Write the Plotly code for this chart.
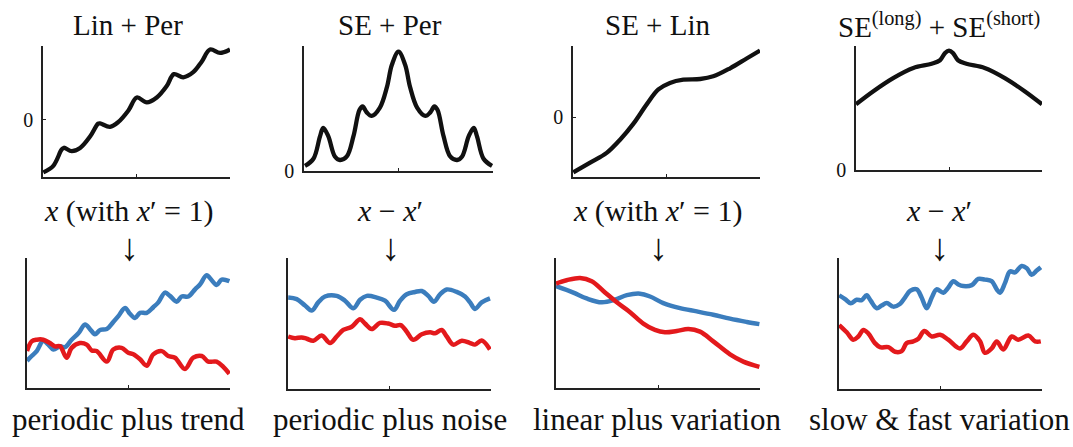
import plotly.graph_objects as go

# ---------------- data ----------------
# Top row: kernel shapes (black)
lin_per_x = [-1.99, -1.67, -1.40, -1.33, -1.08, -0.81, -0.49, -0.23, -0.17, 0.15, 0.42, 0.74, 1.01,
             1.33, 1.65, 1.97, 2.20, 2.50, 2.82, 3.09, 3.36, 3.68, 4.00]
lin_per_y = [-2.15, -1.88, -1.21, -1.14, -1.28, -1.15, -0.68, -0.15, -0.14, -0.28, -0.08, 0.39, 0.92,
             0.72, 0.92, 1.39, 1.88, 1.75, 1.96, 2.39, 2.89, 2.75, 2.89]

se_per_x = [-2.97, -2.70, -2.49, -2.39, -2.23, -2.02, -1.86, -1.64, -1.43, -1.24, -1.14, -1.01, -0.85,
            -0.59, -0.37, -0.21, 0.00, 0.21, 0.37, 0.59, 0.85, 1.01, 1.14, 1.24, 1.43, 1.64, 1.86,
            2.02, 2.23, 2.39, 2.49, 2.70, 2.97]
se_per_y = [0.04, 0.10, 0.29, 0.36, 0.29, 0.12, 0.09, 0.12, 0.29, 0.51, 0.54, 0.49, 0.46,
            0.53, 0.70, 0.89, 1.00, 0.89, 0.70, 0.53, 0.46, 0.49, 0.54, 0.51, 0.29, 0.12, 0.09,
            0.12, 0.29, 0.36, 0.29, 0.10, 0.04]

se_lin_x = [-1.99, -1.45, -0.92, -0.49, -0.06, 0.37, 0.74, 1.11, 1.54, 2.08, 2.50, 3.04, 3.57, 4.00]
se_lin_y = [-2.27, -1.87, -1.47, -0.93, -0.27, 0.53, 1.13, 1.40, 1.53, 1.56, 1.67, 2.00, 2.40, 2.73]

se_se_x = [-3.00, -2.44, -1.80, -1.15, -0.56, -0.29, -0.13, 0.00, 0.13, 0.29, 0.56, 1.15, 1.80, 2.44, 3.00]
se_se_y = [0.55, 0.66, 0.77, 0.855, 0.89, 0.92, 0.98, 1.00, 0.98, 0.92, 0.89, 0.855, 0.77, 0.66, 0.55]

# Bottom row: samples (blue, red)
b1_blue_x = [0.00, 0.23, 0.48, 0.80, 1.05, 1.30, 1.63, 1.87, 2.20, 2.53, 2.86, 3.10, 3.35, 3.60, 3.93,
             4.25, 4.50, 4.83, 5.07, 5.32, 5.57, 5.90, 6.22, 6.47, 6.80, 7.04, 7.37, 7.62, 7.95, 8.28,
             8.52, 8.85, 9.10, 9.34, 9.59, 9.97]
b1_blue_y = [-2.89, -2.52, -2.14, -1.34, -1.64, -2.02, -1.77, -1.84, -1.26, -0.77, -0.09, -0.44, -0.84,
             -0.51, -0.44, 0.11, 0.56, 1.19, 0.74, 0.41, 0.81, 0.81, 1.24, 1.62, 2.37, 2.12, 1.67, 2.07,
             2.07, 2.62, 2.99, 3.70, 3.32, 2.95, 3.37, 3.25]
b1_red_x = [0.00, 0.23, 0.48, 0.80, 1.13, 1.38, 1.63, 1.95, 2.20, 2.61, 2.94, 3.19, 3.43, 3.93, 4.25,
            4.66, 4.99, 5.24, 5.57, 5.90, 6.22, 6.64, 6.96, 7.29, 7.78, 8.19, 8.61, 8.93, 9.34, 9.67, 9.97]
b1_red_y = [-2.14, -1.39, -1.26, -1.26, -1.52, -1.77, -1.77, -2.65, -1.89, -1.52, -1.64, -2.09, -2.14,
            -2.95, -2.02, -1.89, -2.27, -2.39, -2.77, -3.27, -2.39, -2.14, -2.52, -2.65, -3.52, -2.65,
            -2.52, -2.95, -2.95, -3.35, -3.89]

b2_blue_x = [0.01, 0.43, 0.84, 1.17, 1.49, 1.82, 2.40, 2.81, 3.22, 3.55, 3.88, 4.37, 4.78, 5.22, 5.52,
             5.85, 6.26, 6.59, 6.91, 7.19, 7.49, 7.82, 8.31, 8.72, 8.97, 9.21, 9.54, 9.95]
b2_blue_y = [2.01, 1.89, 1.40, 1.02, 1.64, 2.09, 2.14, 1.77, 1.19, 1.84, 2.14, 2.01, 1.77, 1.07, 1.77,
             2.26, 2.44, 2.51, 2.14, 1.69, 2.26, 2.63, 2.44, 2.09, 1.64, 1.14, 1.64, 1.94]
b2_red_x = [0.01, 0.34, 0.67, 0.92, 1.25, 1.66, 2.07, 2.40, 2.72, 3.14, 3.55, 3.79, 4.12, 4.53, 4.94,
            5.27, 5.55, 5.85, 6.17, 6.59, 7.00, 7.24, 7.57, 7.82, 8.14, 8.56, 8.97, 9.21, 9.54, 9.95]
b2_red_y = [-0.97, -1.10, -1.04, -1.14, -1.29, -0.90, -1.47, -0.97, -0.47, -0.22, 0.35, 0.02, -0.40,
            0.07, 0.02, -0.15, -0.10, -0.60, -1.22, -0.80, -0.65, -0.72, -0.47, -0.97, -1.59, -1.29,
            -1.47, -1.59, -1.27, -1.96]

b3_blue_x = [0.00, 0.85, 1.50, 2.24, 2.89, 3.47, 4.12, 4.61, 5.26, 6.08, 6.90, 7.71, 8.53, 9.35, 9.97]
b3_blue_y = [2.87, 2.37, 1.92, 1.62, 1.82, 2.17, 2.29, 2.07, 1.56, 1.17, 0.92, 0.66, 0.36, 0.11, -0.06]
b3_red_x = [0.00, 0.52, 1.18, 1.75, 2.32, 2.98, 3.63, 4.28, 4.85, 5.34, 5.92, 6.49, 7.06, 7.71, 8.53,
            9.18, 9.97]
b3_red_y = [3.07, 3.32, 3.50, 3.25, 2.50, 1.62, 0.86, -0.02, -0.51, -0.69, -0.59, -0.44, -0.64, -1.39,
            -2.39, -2.95, -3.35]

b4_blue_x = [0.01, 0.30, 0.58, 0.87, 1.12, 1.36, 1.56, 1.86, 2.10, 2.35, 2.67, 3.00, 3.25, 3.50, 3.83,
             4.07, 4.32, 4.57, 4.81, 5.14, 5.38, 5.63, 5.88, 6.12, 6.54, 6.86, 7.19, 7.52, 7.77, 7.93,
             8.18, 8.42, 8.67, 9.00, 9.25, 9.49, 9.74, 9.94]
b4_blue_y = [2.13, 1.84, 1.52, 1.79, 1.76, 2.13, 1.72, 1.15, 1.35, 1.54, 1.27, 1.47, 1.96, 2.46, 2.58,
             1.96, 1.15, 1.96, 2.58, 2.33, 2.70, 3.20, 2.95, 2.83, 2.90, 3.37, 3.32, 3.20, 2.58, 2.33,
             3.07, 3.94, 3.87, 4.36, 4.19, 3.69, 4.01, 4.26]
b4_red_x = [0.01, 0.38, 0.70, 0.95, 1.20, 1.44, 1.77, 2.02, 2.43, 2.76, 3.09, 3.33, 3.66, 3.91, 4.20,
            4.57, 4.98, 5.38, 5.96, 6.29, 6.62, 6.95, 7.19, 7.52, 7.77, 8.09, 8.51, 8.83, 9.33, 9.66, 9.94]
b4_red_y = [-0.13, -0.68, -1.24, -1.00, -0.50, -0.76, -1.50, -1.81, -1.81, -2.16, -2.11, -1.50, -1.37,
            -1.17, -0.58, -1.00, -0.87, -1.24, -1.91, -1.37, -0.87, -1.37, -2.24, -1.91, -1.37, -1.99,
            -1.00, -1.24, -0.93, -1.37, -1.37]

titles = ["Lin + Per", "SE + Per", "SE + Lin", "SE<sup>(long)</sup> + SE<sup>(short)</sup>"]
mid_labels = ["<i>x</i> (with <i>x</i>′ = 1)", "<i>x</i> − <i>x</i>′",
              "<i>x</i> (with <i>x</i>′ = 1)", "<i>x</i> − <i>x</i>′"]
bottom_labels = ["periodic plus trend", "periodic plus noise", "linear plus variation",
                 "slow &amp; fast variation"]

# ---------------- layout geometry (pixels) ----------------
W, H = 1073, 447
top_boxes = [(43, 230, 47, 181), (304, 493, 47, 175), (573, 760, 47, 181), (856, 1042, 47, 174)]
bot_boxes = [(27, 230, 265, 398), (288, 491, 265, 399), (556, 760, 265, 398), (839, 1042, 264, 399)]
top_xr = [[-2, 4], [-3, 3], [-2, 4], [-3, 3]]
top_xmid = [1, 0, 1, 0]
top_yr = [[-2.32, 3.04], [0, 1.049], [-2.44, 2.92], [0, 1.041]]
col_cx = [128, 390, 657, 939]

BLACK = "#111111"
BLUE = "#3b7dbd"
RED = "#e3191c"
FONT = "Liberation Serif"

fig = go.Figure()

top_data = [(lin_per_x, lin_per_y), (se_per_x, se_per_y), (se_lin_x, se_lin_y), (se_se_x, se_se_y)]
bot_data = [((b1_blue_x, b1_blue_y), (b1_red_x, b1_red_y)),
            ((b2_blue_x, b2_blue_y), (b2_red_x, b2_red_y)),
            ((b3_blue_x, b3_blue_y), (b3_red_x, b3_red_y)),
            ((b4_blue_x, b4_blue_y), (b4_red_x, b4_red_y))]

def dom_x(l, r):
    return [l / W, r / W]

def dom_y(t, b):
    return [1 - b / H, 1 - t / H]

axis_common = dict(showline=True, linecolor="#222222", linewidth=1.5, showgrid=False,
                   zeroline=False, ticks="inside", ticklen=3, tickwidth=1.2, tickcolor="#222222",
                   fixedrange=True)

for i in range(4):
    n = i + 1
    xs, ys = top_data[i]
    fig.add_trace(go.Scatter(x=xs, y=ys, mode="lines", line=dict(color=BLACK, width=4.3, shape="spline"),
                             xaxis=f"x{n}", yaxis=f"y{n}", showlegend=False, hoverinfo="skip"))
    l, r, t, b = top_boxes[i]
    fig.layout[f"xaxis{n}"] = dict(domain=dom_x(l, r), range=top_xr[i], anchor=f"y{n}",
                                   tickvals=[top_xmid[i]], showticklabels=False, **axis_common)
    fig.layout[f"yaxis{n}"] = dict(domain=dom_y(t, b), range=top_yr[i], anchor=f"x{n}",
                                   tickvals=[0], ticktext=["0"], showticklabels=True,
                                   tickfont=dict(family=FONT, size=20, color=BLACK),
                                   ticklabelstandoff=4, **axis_common)

for i in range(4):
    n = i + 5
    (bx, by), (rx, ry) = bot_data[i]
    fig.add_trace(go.Scatter(x=bx, y=by, mode="lines", line=dict(color=BLUE, width=4.5, shape="spline"),
                             xaxis=f"x{n}", yaxis=f"y{n}", showlegend=False, hoverinfo="skip"))
    fig.add_trace(go.Scatter(x=rx, y=ry, mode="lines", line=dict(color=RED, width=4.5, shape="spline"),
                             xaxis=f"x{n}", yaxis=f"y{n}", showlegend=False, hoverinfo="skip"))
    l, r, t, b = bot_boxes[i]
    fig.layout[f"xaxis{n}"] = dict(domain=dom_x(l, r), range=[0, 10], anchor=f"y{n}",
                                   tickvals=[5], showticklabels=False, **axis_common)
    yc = dict(axis_common)
    yc["ticks"] = ""
    fig.layout[f"yaxis{n}"] = dict(domain=dom_y(t, b), range=[-5, 5], anchor=f"x{n}",
                                   showticklabels=False, **yc)

annotations = []
for i in range(4):
    cx = col_cx[i] / W
    annotations.append(dict(text=titles[i], x=cx, y=1 - 26 / H, xref="paper", yref="paper",
                            xanchor="center", yanchor="middle", showarrow=False,
                            font=dict(family=FONT, size=29, color=BLACK)))
    # label and its down-arrow as one two-line text
    annotations.append(dict(text=mid_labels[i] + "<br><span style='font-size:38px'>↓</span>",
                            x=cx, y=1 - 237 / H, xref="paper", yref="paper",
                            xanchor="center", yanchor="middle", showarrow=False,
                            font=dict(family=FONT, size=30, color=BLACK)))
    annotations.append(dict(text=bottom_labels[i], x=cx, y=1 - 430 / H, xref="paper", yref="paper",
                            xanchor="center", yanchor="middle", showarrow=False,
                            font=dict(family=FONT, size=31, color=BLACK)))

fig.update_layout(width=W, height=H, margin=dict(l=0, r=0, t=0, b=0), autosize=False,
                  paper_bgcolor="white", plot_bgcolor="white", annotations=annotations)

fig.write_html("out.html", config={"displayModeBar": False},
               post_script="document.body.style.margin='0';document.body.style.overflow='hidden';")
